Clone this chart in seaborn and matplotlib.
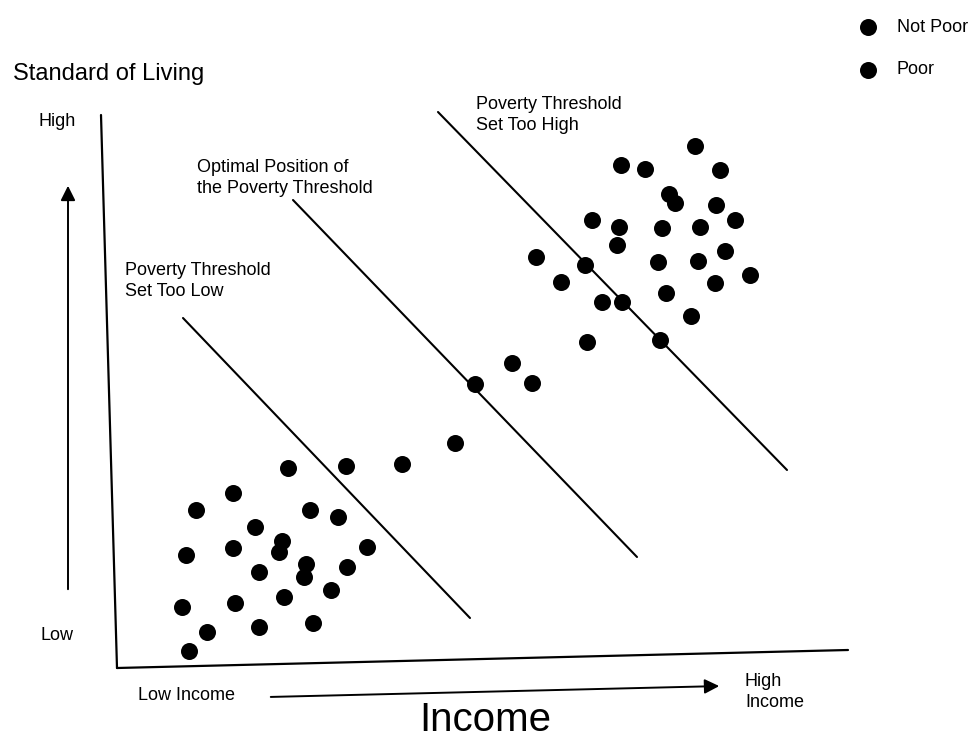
import matplotlib
matplotlib.use("Agg")
import matplotlib.pyplot as plt
import seaborn as sns
import pandas as pd

sns.set_theme(style="white")
plt.rcParams['font.family'] = ['Liberation Sans', 'DejaVu Sans']
plt.rcParams['text.color'] = 'black'

# Dot positions (income, standard of living) in diagram units (pixel-like, y grows downward)
low_x = [288, 346, 233, 196, 310, 338, 255, 282, 279, 233, 186, 367, 306, 304, 347, 259, 331, 284, 235, 182, 259, 313, 207, 189]
low_y = [468, 466, 493, 510, 510, 517, 527, 541, 552, 548, 555, 547, 564, 577, 567, 572, 590, 597, 603, 607, 627, 623, 632, 651]
mid_x = [402, 455, 475, 512, 532]
mid_y = [464, 443, 384, 363, 383]
high_x = [695, 621, 645, 720, 669, 675, 716, 735, 592, 619, 662, 700, 617, 725, 536, 585, 658, 698, 750, 561, 715, 666, 602, 622, 691, 587, 660]
high_y = [146, 165, 169, 170, 194, 203, 205, 220, 220, 227, 228, 227, 245, 251, 257, 265, 262, 261, 275, 282, 283, 293, 302, 302, 316, 342, 340]

# Threshold lines and their labels
threshold_names = ["Poverty Threshold\nSet Too Low", "Optimal Position of\nthe Poverty Threshold", "Poverty Threshold\nSet Too High"]
threshold_x = [(183, 470), (293, 637), (438, 787)]
threshold_y = [(318, 618), (200, 557), (112, 470)]
threshold_label_xy = [(125, 281), (197, 178), (476, 115)]

df = pd.DataFrame({
    "income": low_x + mid_x + high_x,
    "living": low_y + mid_y + high_y,
})

fig = plt.figure(figsize=(9.75, 7.38), dpi=100)
ax = fig.add_axes([0, 0, 1, 1])
ax.set_xlim(0, 975)
ax.set_ylim(738, 0)
ax.axis("off")

sns.scatterplot(data=df, x="income", y="living", color="black", s=150,
                edgecolor="black", linewidth=0, ax=ax, legend=False)

# axes of the diagram
ax.plot([101, 117], [115, 668], color="black", lw=1.6)
ax.plot([117, 848], [668, 650], color="black", lw=1.6)

for (x0, x1), (y0, y1) in zip(threshold_x, threshold_y):
    ax.plot([x0, x1], [y0, y1], color="black", lw=1.5)
for name, (tx, ty) in zip(threshold_names, threshold_label_xy):
    ax.text(tx, ty, name, fontsize=13, ha="left", va="center", linespacing=1.3)

# arrows
ax.annotate("", xy=(68, 183), xytext=(68, 592),
            arrowprops=dict(arrowstyle="-|>", color="black", lw=1.4, mutation_scale=22))
ax.annotate("", xy=(722, 686), xytext=(268, 697),
            arrowprops=dict(arrowstyle="-|>", color="black", lw=1.4, mutation_scale=22))

ax.text(13, 74, "Standard of Living", fontsize=17, ha="left", va="center")
ax.text(38, 121, "High", fontsize=13, ha="left", va="center")
ax.text(40, 635, "Low", fontsize=13, ha="left", va="center")
ax.text(138, 696, "Low Income", fontsize=13, ha="left", va="center")
ax.text(745, 692, "High\nIncome", fontsize=13, ha="left", va="center", linespacing=1.25)
ax.text(485, 720, "Income", fontsize=29, ha="center", va="center")

# legend
legend_labels = ["Not Poor", "Poor"]
legend_y = [27, 70]
ax.scatter([868] * len(legend_y), legend_y, s=150, color="black", linewidths=0)
for lab, ly in zip(legend_labels, legend_y):
    ax.text(897, ly, lab, fontsize=13, ha="left", va="center")

fig.savefig("out.png", dpi=100, facecolor="white")
